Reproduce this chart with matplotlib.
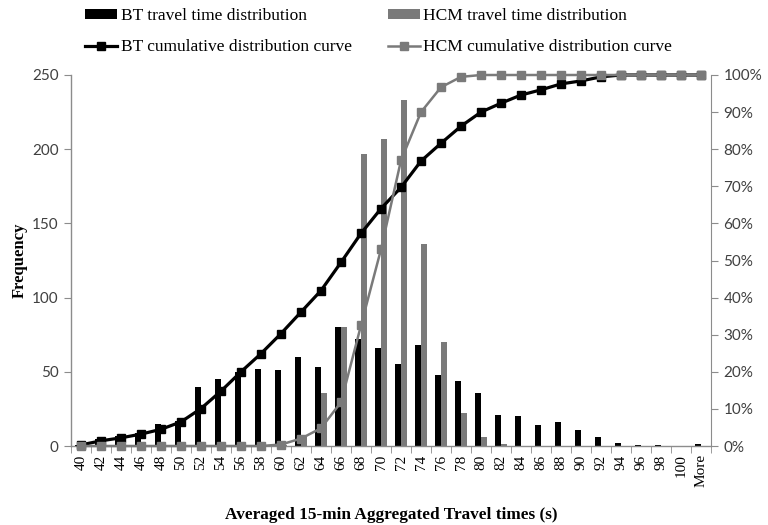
import matplotlib
matplotlib.use("Agg")
import matplotlib.pyplot as plt
from matplotlib.lines import Line2D
from matplotlib.patches import Patch
from matplotlib.ticker import FixedLocator, FuncFormatter
import numpy as np

categories = [str(v) for v in range(40, 101, 2)] + ["More"]

bt_freq = [1, 5, 7, 9, 15, 17, 40, 45, 50, 52, 51, 60, 53, 80, 72, 66,
           55, 68, 48, 44, 36, 21, 20, 14, 16, 11, 6, 2, 0.7, 0.5, 0, 1.6]
hcm_freq = [0, 0, 0, 0, 0, 0, 0, 0, 0, 0, 1, 6, 36, 80, 197, 207,
            233, 136, 70, 22, 6, 1.5, 0, 0, 0, 0, 0, 0, 0, 0, 0, 0]

bt_cum = [0.3, 1.4, 2.2, 3.2, 4.5, 6.5, 10.1, 14.8, 20.0, 24.9, 30.3, 36.1,
          41.9, 49.5, 57.3, 64.0, 69.7, 76.8, 81.6, 86.2, 90.0, 92.4, 94.6, 96.0,
          97.6, 98.4, 99.5, 100, 100, 100, 100, 100]
hcm_cum = [0, 0, 0, 0, 0, 0, 0, 0, 0, 0, 0.4, 2.0, 4.8, 11.8, 32.5, 53.0,
           77.0, 90.0, 96.7, 99.5, 100, 100, 100, 100, 100, 100, 100, 100,
           100, 100, 100, 100]

left_ticks = [0, 50, 100, 150, 200, 250]
right_ticks = [0, 10, 20, 30, 40, 50, 60, 70, 80, 90, 100]

serif = ["Liberation Serif", "DejaVu Serif"]
sans = ["Lato", "DejaVu Sans"]
axis_grey = "#8c8c8c"
hcm_grey = "#7a7a7a"
label_col = "#404040"

fig = plt.figure(figsize=(7.68, 5.25), dpi=100)
ax = fig.add_axes([71 / 768, 1 - 446 / 525, 640 / 768, 371 / 525])
x = np.arange(len(categories))
w = 0.32
ax.bar(x - w / 2, bt_freq, width=w, color="black", zorder=2)
ax.bar(x + w / 2, hcm_freq, width=w, color=hcm_grey, zorder=2)
ax.set_xlim(-0.5, len(categories) - 0.5)
ax.set_ylim(0, 250)
ax.set_yticks(left_ticks)
ax.set_xticks(x)
ax.set_xticklabels(categories, rotation=90, family=serif, fontsize=11, color="black")
ax.xaxis.set_minor_locator(FixedLocator(np.arange(-0.5, len(categories), 1.0)))
ax.tick_params(axis="x", which="major", length=0, pad=6)
ax.tick_params(axis="x", which="minor", length=5, color=axis_grey, direction="out")
ax.tick_params(axis="y", length=5, color=axis_grey, labelsize=11, labelcolor=label_col, pad=4)
for lab in ax.get_yticklabels():
    lab.set_family(sans)
for s in ["top", "right"]:
    ax.spines[s].set_visible(False)
for s in ["left", "bottom"]:
    ax.spines[s].set_color(axis_grey)
    ax.spines[s].set_linewidth(1.0)
ax.set_ylabel("Frequency", family=serif, fontweight="bold", fontsize=12, labelpad=3)
ax.set_xlabel("Averaged 15-min Aggregated Travel times (s)", family=serif,
              fontweight="bold", fontsize=12.4, labelpad=14)

ax2 = ax.twinx()
ax2.set_position(ax.get_position())
ax2.plot(x, bt_cum, color="black", lw=2.3, marker="s", markersize=6, zorder=3, clip_on=False)
ax2.plot(x, hcm_cum, color=hcm_grey, lw=1.8, marker="s", markersize=5.5, zorder=4, clip_on=False)
ax2.set_ylim(0, 100)
ax2.set_yticks(right_ticks)
ax2.yaxis.set_major_formatter(FuncFormatter(lambda v, p: f"{int(v)}%"))
ax2.tick_params(axis="y", length=5, color=axis_grey, labelsize=11, labelcolor=label_col, pad=4)
for lab in ax2.get_yticklabels():
    lab.set_family(sans)
for s in ["top", "left", "bottom"]:
    ax2.spines[s].set_visible(False)
ax2.spines["right"].set_color(axis_grey)
ax2.set_xlim(-0.5, len(categories) - 0.5)

handles = [
    Patch(facecolor="black", edgecolor="none"),
    Line2D([], [], color="black", lw=2.3, marker="s", markersize=6),
    Patch(facecolor=hcm_grey, edgecolor="none"),
    Line2D([], [], color=hcm_grey, lw=1.8, marker="s", markersize=5.5),
]
labels = ["BT travel time distribution", "BT cumulative distribution curve",
          "HCM travel time distribution", "HCM cumulative distribution curve"]
fig.legend(handles, labels, ncol=2, loc="upper left", bbox_to_anchor=(85 / 768, 1 - 8 / 525),
           frameon=False, prop={"family": serif, "size": 12.5}, handlelength=1.85,
           handleheight=0.5, handletextpad=0.2, columnspacing=2.07, labelspacing=0.88,
           borderpad=0, borderaxespad=0)

fig.savefig("out.png", dpi=100)
